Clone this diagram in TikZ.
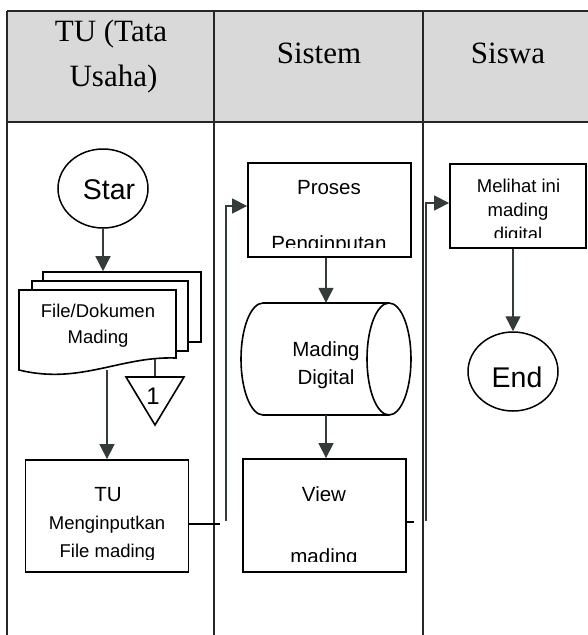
\documentclass[tikz,border=0pt]{standalone}
\usepackage{fontspec}
\setmainfont{Liberation Serif}
\newfontfamily\arialf{Liberation Sans}
\usetikzlibrary{arrows.meta,shapes.geometric}
\definecolor{arrgray}{HTML}{333B3B}
\definecolor{hdr}{HTML}{D9D9D9}
\begin{document}
\begin{tikzpicture}[x=1pt,y=-1pt,
  lane/.style={draw=black!85, line width=1.1pt},
  box/.style={draw=black, line width=1.8pt, fill=white, rectangle, inner sep=0pt},
  page/.style={draw=black, line width=1.6pt, fill=white, rectangle, inner sep=0pt},
  docline/.style={draw=black, line width=1.6pt, fill=white},
  term/.style={draw=black, line width=1.5pt, ellipse, inner sep=0pt, minimum width=90pt, minimum height=79pt},
  arr/.style={draw=arrgray, line width=1.4pt, -{Triangle[length=15pt,width=15pt]}},
  plainline/.style={draw=arrgray, line width=1.4pt},
  heavyline/.style={draw=black, line width=2.5pt},
  htxt/.style={font=\fontsize{31}{31}\selectfont, inner sep=0pt, anchor=base},
  txt/.style={font=\arialf\fontsize{18.5}{18.5}\selectfont, inner sep=0pt, anchor=base},
  mtxt/.style={font=\arialf\fontsize{20.5}{20.5}\selectfont, inner sep=0pt, anchor=base},
  btxt/.style={font=\arialf\fontsize{28.5}{28.5}\selectfont, inner sep=0pt, anchor=base}
]
\useasboundingbox (0,0) rectangle (588,635);
\fill[white] (0,0) rectangle (588,635);
% header and lanes
\fill[hdr] (7,11) rectangle (588,122);
\draw[lane] (7,11) -- (588,11);
\draw[lane] (7,122) -- (588,122);
\draw[lane] (7,11) -- (7,635);
\draw[lane] (214,11) -- (214,635);
\draw[lane] (423,11) -- (423,635);
\node[htxt] (h1a) at (111,41) {TU (Tata};
\node[htxt] (h1b) at (113.5,86) {Usaha)};
\node[htxt] (h2) at (319,63) {Sistem};
\node[htxt] (h3) at (508,63) {Siswa};

% Star
\node[term] (star) at (103,188.5) {};
\node[btxt] (startxt) at (109,199) {Star};

% multi document
\node[page, minimum width=158pt, minimum height=70pt] (pg3) at (122,307) {};
\node[page, minimum width=156pt, minimum height=70pt] (pg2) at (110,316) {};
\draw[docline] (19,290) -- (176,290) -- (176,358) .. controls (120,356) and (80,385) .. (19,370) -- cycle;
\node[txt] (doct1) at (98,317) {File/Dokumen};
\node[txt] (doct2) at (98,343) {Mading};
\draw[arr] (star.south) -- (star.south |- pg3.north);

% off-page connector
\coordinate (offtop) at (155,377);
\coordinate (docbot2) at (155,359);
\draw[plainline] (docbot2) -- (offtop);
\draw[docline] (126,377) -- (184,377) -- (155,425) -- cycle;
\node[font=\arialf\fontsize{24}{24}\selectfont, inner sep=0pt, anchor=base] (off1) at (153,404) {1};

% TU box
\node[box, minimum width=163pt, minimum height=112pt] (tu) at (107,516) {};
\coordinate (docbot) at (107,370);
\draw[arr] (docbot) -- (docbot |- tu.north);
\begin{scope}
\clip (25,460) rectangle (189,559);
\node[mtxt] (tu1) at (108,501) {TU};
\node[txt] (tu2) at (107,529) {Menginputkan};
\node[txt] (tu3) at (107.5,557) {File mading};
\end{scope}

% Proses box
\node[box, minimum width=163pt, minimum height=94pt] (proses) at (329.5,210) {};
\begin{scope}
\clip (248,163) rectangle (411,247);
\node[mtxt] (pr1) at (329,194) {Proses};
\node[mtxt] (pr2) at (329,250) {Penginputan};
\end{scope}

% database cylinder
\node[minimum width=170pt, minimum height=112pt, inner sep=0pt] (db) at (326,359) {};
\draw[docline] (389,303) -- (263,303) arc[start angle=90, end angle=270, x radius=22pt, y radius=56pt] -- (389,415);
\draw[docline] (389,359) ellipse [x radius=22pt, y radius=56pt];
\node[mtxt] (db1) at (326,356) {Mading};
\node[mtxt] (db2) at (326,384) {Digital};
\draw[arr] (proses.south -| db) -- (db.north);

% View box
\node[box, minimum width=163pt, minimum height=113pt] (view) at (324.5,515.5) {};
\draw[arr] (db.south) -- (db.south |- view.north);
\begin{scope}
\clip (243,459) rectangle (406,561);
\node[mtxt] (vw1) at (324,501) {View};
\node[mtxt] (vw2) at (324,563) {mading};
\end{scope}

% Melihat box
\node[box, minimum width=136pt, minimum height=84pt] (melihat) at (518,206) {};
\begin{scope}
\clip (450,164) rectangle (586,237);
\node[txt] (ml1) at (518.5,192) {Melihat ini};
\node[txt] (ml2) at (518,216) {mading};
\node[txt] (ml3) at (518,240) {digital};
\end{scope}

% End
\node[term] (end) at (513,371.5) {};
\node[btxt] (endtxt) at (517,387) {End};
\draw[arr] (melihat.south -| end) -- (end.north);

% cross-lane connectors
\coordinate (c1a) at (220,524);
\draw[heavyline] ([yshift=-8pt]tu.east) -- (c1a);
\coordinate (c1b) at (226,521);
\draw[arr] (c1b) |- ([yshift=4pt]proses.west);
\coordinate (c2a) at (414,522);
\draw[heavyline] ([yshift=-6.5pt]view.east) -- (c2a);
\coordinate (c2b) at (426,521);
\draw[arr] (c2b) |- ([yshift=3pt]melihat.west);
\end{tikzpicture}
\end{document}
